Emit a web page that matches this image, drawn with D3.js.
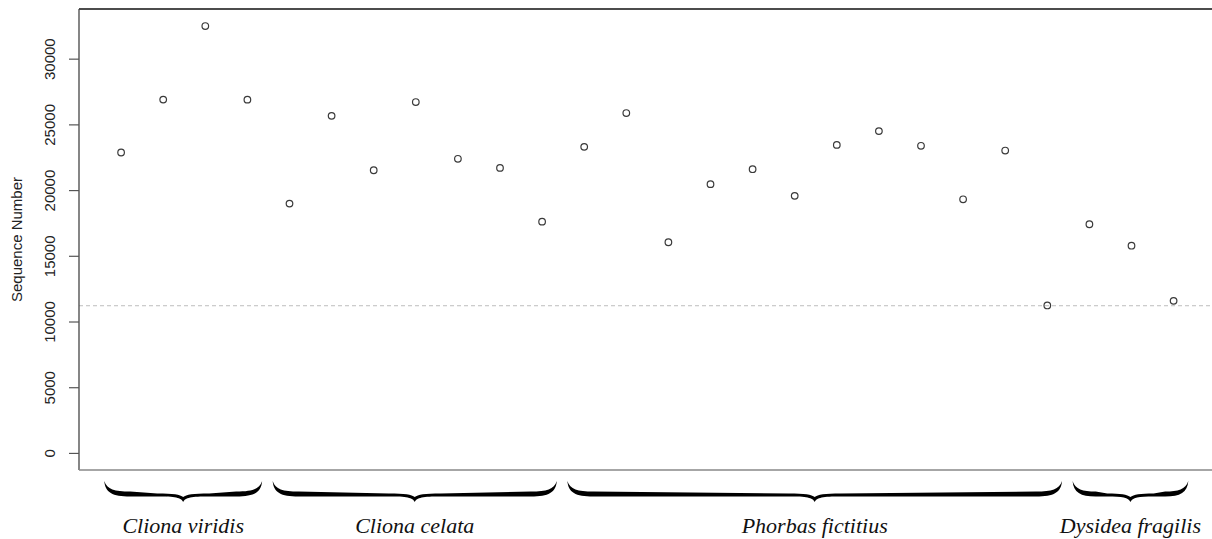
<!DOCTYPE html>
<html lang="en">
<head>
  <meta charset="UTF-8">
  <title>Sequence Number by sponge species</title>
  <script src="https://d3js.org/d3.v7.min.js"></script>
  <style>
    body { margin: 0; background: #fff; }
    svg { display: block; }
  </style>
</head>
<body>
  <div id="chart"></div>

  <script>
    // species groups, in plotting order
    const groupNames = ["Cliona viridis", "Cliona celata", "Phorbas fictitius", "Dysidea fragilis"];
    const viridis = [22860, 26885, 32480, 26880];
    const celata  = [18970, 25650, 21510, 26700, 22380, 21690, 17600];
    const phorbas = [23290, 25860, 16030, 20450, 21590, 19560, 23440, 24490, 23370, 19300, 23010, 11220];
    const dysidea = [17400, 15770, 11570];
    const yTicks = [0, 5000, 10000, 15000, 20000, 25000, 30000];
    const cutoff = 11200;

    const groups = [viridis, celata, phorbas, dysidea];
    const values = groups.flat();

    const W = 1212, H = 539;
    const margin = {top: 9, left: 79, bottom: 470};
    const step = 42.1; // px per sample

    const svg = d3.select("#chart").append("svg")
      .attr("width", W).attr("height", H);

    // R style axis limits: 4% padding on each side
    const n = values.length;
    const pad = 0.04 * (n - 1);
    const x = d3.scaleLinear()
      .domain([1 - pad, n + pad])
      .range([margin.left, margin.left + step * (n - 1 + 2 * pad)]);
    const yMax = d3.max(values);
    const y = d3.scaleLinear()
      .domain([-0.04 * yMax, yMax * 1.04])
      .range([margin.bottom, margin.top]);

    // dashed cutoff line
    svg.append("line")
       .attr("x1", margin.left).attr("x2", W)
       .attr("y1", y(cutoff)).attr("y2", y(cutoff))
       .attr("stroke", "#bdbdbd").attr("stroke-width", 1)
       .attr("stroke-dasharray", "4,3");

    // box parts
    svg.append("line")
       .attr("x1", margin.left).attr("x2", W)
       .attr("y1", margin.top).attr("y2", margin.top)
       .attr("stroke", "#111").attr("stroke-width", 1.3);
    svg.append("line")
       .attr("x1", margin.left).attr("x2", margin.left)
       .attr("y1", margin.top).attr("y2", margin.bottom)
       .attr("stroke", "#444").attr("stroke-width", 1.3);
    svg.append("line")
       .attr("x1", margin.left).attr("x2", W)
       .attr("y1", margin.bottom).attr("y2", margin.bottom)
       .attr("stroke", "#888").attr("stroke-width", 1.6);

    // y axis
    const yAxis = svg.append("g")
      .attr("transform", `translate(${margin.left},0)`)
      .call(d3.axisLeft(y).tickValues(yTicks).tickSize(10).tickFormat(d3.format("d")));
    yAxis.select(".domain").remove();
    yAxis.selectAll(".tick line").attr("stroke", "#555").attr("stroke-width", 1.2);
    yAxis.selectAll(".tick text").remove();
    yAxis.selectAll(".tick").append("text")
      .attr("transform", "translate(-24,0) rotate(-90)")
      .attr("text-anchor", "middle")
      .attr("fill", "#222")
      .style("font-family", "'Liberation Sans', Arial, sans-serif")
      .style("font-size", "15px")
      .text(d => d);

    svg.append("text")
       .attr("transform", `translate(22,${(margin.top + margin.bottom) / 2}) rotate(-90)`)
       .attr("text-anchor", "middle")
       .attr("fill", "#222")
       .style("font-family", "'Liberation Sans', Arial, sans-serif")
       .style("font-size", "15px")
       .text("Sequence Number");

    // points
    svg.selectAll(".pt")
       .data(values)
       .enter()
       .append("circle")
       .attr("class", "pt")
       .attr("cx", (d, i) => x(i + 1))
       .attr("cy", d => y(d))
       .attr("r", 3.3)
       .attr("fill", "none")
       .attr("stroke", "#3a3a3a")
       .attr("stroke-width", 1.2);

    // braces under each species group
    function bracePath(x1, x2) {
      const xm = (x1 + x2) / 2, top = 481, bB = 496.5, tip = 502, notch = 497;
      const bTe = 491.5, bTm = 493.5;
      const c = Math.min(26, (x2 - x1) / 5);
      return `M${x1},${top}
        C${x1 + 1},${bB - 4} ${x1 + 8},${bB} ${x1 + c},${bB}
        L${xm - c},${bB}
        C${xm - 8},${bB} ${xm - 2},${bB + 1} ${xm},${tip}
        C${xm + 2},${bB + 1} ${xm + 8},${bB} ${xm + c},${bB}
        L${x2 - c},${bB}
        C${x2 - 8},${bB} ${x2 - 1},${bB - 4} ${x2},${top}
        C${x2 - 3},${bTe - 2} ${x2 - 10},${bTe} ${x2 - c},${bTe}
        L${xm + c},${bTm}
        C${xm + 10},${bTm} ${xm + 3},${bTm + 1} ${xm},${notch}
        C${xm - 3},${bTm + 1} ${xm - 10},${bTm} ${xm - c},${bTm}
        L${x1 + c},${bTe}
        C${x1 + 10},${bTe} ${x1 + 3},${bTe - 2} ${x1},${top} Z`;
    }

    let start = 1;
    const spans = groups.map((g, k) => {
      const s = {name: groupNames[k], first: start, last: start + g.length - 1};
      start += g.length;
      return s;
    });

    svg.selectAll(".brace")
       .data(spans)
       .enter()
       .append("path")
       .attr("class", "brace")
       .attr("d", d => bracePath(x(d.first - 0.4), x(d.last + 0.35)))
       .attr("fill", "#000");

    svg.selectAll(".grp")
       .data(spans)
       .enter()
       .append("text")
       .attr("class", "grp")
       .attr("x", d => (x(d.first - 0.4) + x(d.last + 0.35)) / 2)
       .attr("y", 533)
       .attr("text-anchor", "middle")
       .attr("fill", "#111")
       .style("font-family", "'Liberation Serif', 'Times New Roman', serif")
       .style("font-style", "italic")
       .style("font-size", "22px")
       .text(d => d.name);
  </script>
</body>
</html>
